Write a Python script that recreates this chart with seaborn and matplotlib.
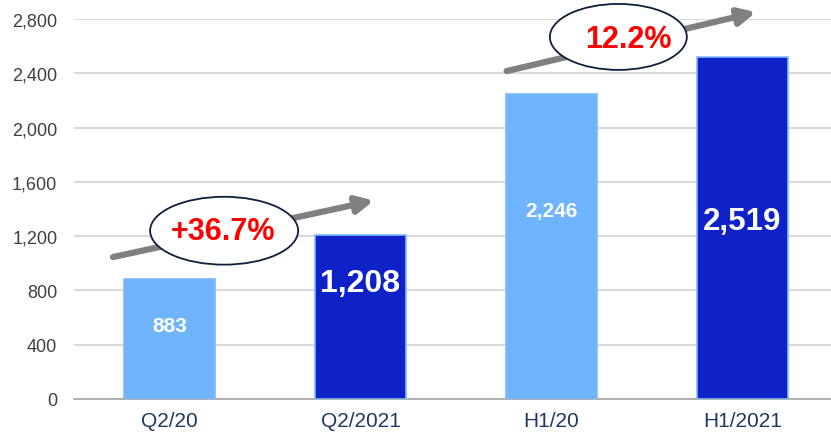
import matplotlib
matplotlib.use("Agg")
import pandas as pd
import matplotlib.pyplot as plt
import seaborn as sns
from matplotlib.patches import Ellipse

# Chart data
categories = ["Q2/20", "Q2/2021", "H1/20", "H1/2021"]
values = [883, 1208, 2246, 2519]
value_labels = ["883", "1,208", "2,246", "2,519"]
growth_labels = ["+36.7%", "12.2%"]
y_ticks = [0, 400, 800, 1200, 1600, 2000, 2400, 2800]

# Styling
light_blue = "#70B4FF"
dark_blue = "#0E22C8"
palette = {"Q2/20": light_blue, "Q2/2021": dark_blue, "H1/20": light_blue, "H1/2021": dark_blue}
label_sizes = [15, 23, 15, 22.5]
label_frac = [0.61, 0.71, 0.62, 0.52]

sns.set_style("white")
plt.rcParams["font.family"] = ["Liberation Sans", "DejaVu Sans"]

df = pd.DataFrame({"period": categories, "value": values})

fig = plt.figure(figsize=(8.31, 4.35), dpi=100)
W, H = 831, 435
ax = fig.add_axes([74 / W, (H - 400) / H, (838 - 74) / W, 380 / H])

sns.barplot(data=df, x="period", y="value", hue="period", palette=palette,
            width=0.48, edgecolor="#7ABAFF", linewidth=1.2, saturation=1,
            legend=False, ax=ax, zorder=3)

ax.set_xlim(-0.5, 3.5)
ax.set_ylim(0, 2800)
ax.set_yticks(y_ticks)
ax.set_yticklabels([f"{v:,}" for v in y_ticks], fontsize=13, color="#404040")
ax.yaxis.grid(True, color="#D9D9D9", linewidth=1.5, zorder=0)
ax.set_axisbelow(True)
ax.tick_params(axis="y", length=0, pad=12)

ax.set_xticks(range(len(categories)))
ax.set_xticklabels(categories, fontsize=15, color="#1F3864")
ax.set_xticks([-0.5, 0.5, 1.5, 2.5], minor=True)
ax.tick_params(axis="x", which="major", length=0, pad=9)
ax.tick_params(axis="x", which="minor", length=5, width=1, color="#A6A6A6", direction="out")
ax.set_xlabel("")
ax.set_ylabel("")

for side in ["left", "right", "top"]:
    ax.spines[side].set_visible(False)
ax.spines["bottom"].set_color("#A6A6A6")
ax.spines["bottom"].set_linewidth(1.2)

# Value labels inside bars
for i, (v, lab) in enumerate(zip(values, value_labels)):
    ax.text(i, v * label_frac[i], lab, ha="center", va="center", color="white",
            fontsize=label_sizes[i], fontweight="bold", zorder=5)

# Growth arrows with ellipse callouts
arrows = [((-0.296, 1046), (1.07, 1462)), ((1.765, 2416), (3.07, 2850))]
ellipses = [(0.286, 1240, 0.775, 500), (2.35, 2668, 0.717, 486)]
text_pos = [(0.28, 1235), (2.40, 2650)]
for (start, end), (cx, cy, ew, eh), (tx, ty), g in zip(arrows, ellipses, text_pos, growth_labels):
    ax.annotate("", xy=end, xytext=start, annotation_clip=False,
                arrowprops=dict(arrowstyle="-|>,head_length=1.0,head_width=0.5",
                                color="#808080", lw=4.5, shrinkA=0, shrinkB=0),
                zorder=6)
    ax.add_patch(Ellipse((cx, cy), ew, eh, facecolor="white", edgecolor="#0D1F3C",
                         linewidth=1.3, zorder=7, clip_on=False))
    ax.text(tx, ty, g, ha="center", va="center", color="#FF0000", fontsize=22,
            fontweight="bold", zorder=8, clip_on=False)

fig.savefig("out.png", dpi=100)
